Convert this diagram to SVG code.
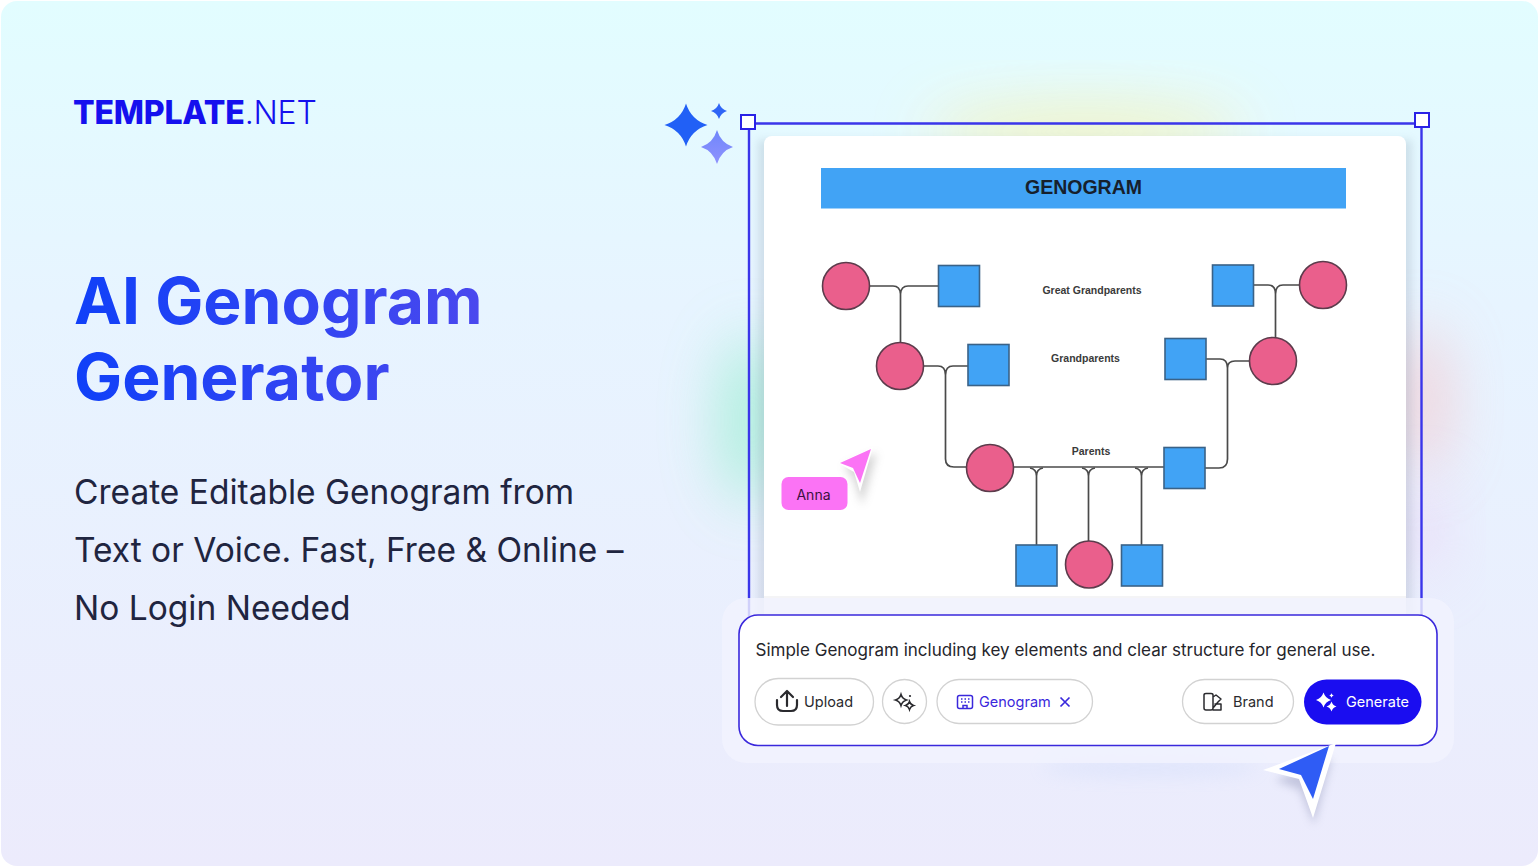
<svg xmlns="http://www.w3.org/2000/svg" width="1539" height="867" viewBox="0 0 1539 867">
<defs>
<linearGradient id="bg" x1="0" y1="0" x2="0" y2="1"><stop offset="0" stop-color="#e2fdff"/><stop offset="0.35" stop-color="#e7f4ff"/><stop offset="1" stop-color="#ecebfc"/></linearGradient>
<linearGradient id="title2" gradientUnits="userSpaceOnUse" x1="75" y1="0" x2="480" y2="0"><stop offset="0" stop-color="#1040f8"/><stop offset="1" stop-color="#4a48ee"/></linearGradient>
<linearGradient id="star" x1="0" y1="0" x2="0" y2="1"><stop offset="0" stop-color="#6f86fb"/><stop offset="1" stop-color="#8f92fd"/></linearGradient>
<filter id="b60" x="-100%" y="-100%" width="300%" height="300%"><feGaussianBlur stdDeviation="30"/></filter>
<filter id="b8" x="-50%" y="-200%" width="200%" height="500%"><feGaussianBlur stdDeviation="9"/></filter>
<filter id="b4" x="-50%" y="-50%" width="200%" height="200%"><feGaussianBlur stdDeviation="4"/></filter>
<path id="sp" d="M0-1Q.24-.24 1 0 .24.24 0 1-.24.24-1 0-.24-.24 0-1Z"/>
<style>
text{font-family:Inter,"Liberation Sans",sans-serif}
.c{fill:#ea5f8c;stroke:#5c3c4c;stroke-width:1.6}
.s{fill:#41a3f5;stroke:#3a6287;stroke-width:1.6}
.l{fill:none;stroke:#4a4a4a;stroke-width:1.7}
.lb{font-family:"Liberation Sans",Arial,sans-serif;font-size:10.500px;font-weight:700;fill:#3a3a3a;text-anchor:middle}
.pill{fill:#fff;stroke:#d2d2d2;stroke-width:1.3}
.bt{font-size:14.500px;fill:#2a2a2e}
.sel{fill:none;stroke:#3a35ea;stroke-width:2.400}
.ic{fill:none;stroke:#2a2a2e;stroke-width:1.6;stroke-linecap:round;stroke-linejoin:round}
.head{font-size:64.200px;font-weight:700;fill:url(#title2)}
.sub{font-size:33.500px;fill:#1f2540}
.gt{font-family:"Liberation Sans",Arial,sans-serif;font-size:19.500px;font-weight:700;fill:#16202c;text-anchor:middle}
</style>
</defs>
<rect width="1539" height="867" fill="#fff"/>
<rect x="1" y="1" width="1537" height="865" rx="16" fill="url(#bg)"/>
<g id="glow">
<ellipse cx="752" cy="420" rx="32" ry="85" fill="#90eecb" opacity=".7" filter="url(#b60)"/>
<ellipse cx="1085" cy="132" rx="160" ry="24" fill="#f5f2b5" opacity=".9" filter="url(#b60)"/>
<ellipse cx="1420" cy="400" rx="28" ry="75" fill="#f8bcc0" opacity=".6" filter="url(#b60)"/>
<ellipse cx="1420" cy="530" rx="22" ry="50" fill="#ecc4f0" opacity=".5" filter="url(#b60)"/>
<ellipse cx="1150" cy="768" rx="110" ry="8" fill="#c5d4fa" opacity=".35" filter="url(#b8)"/>
</g>
<g id="brand"><text x="73" y="123.500" font-size="32" font-weight="800" fill="#1510ee" style="letter-spacing:-.2px">TEMPLATE<tspan font-weight="300">.NET</tspan></text></g>
<g id="copy">
<text class="head" x="74" y="324">AI Genogram</text>
<text class="head" x="74" y="400">Generator</text>
<text class="sub" x="74" y="504">Create Editable Genogram from</text>
<text class="sub" x="74" y="562">Text or Voice. Fast, Free &amp; Online –</text>
<text class="sub" x="74" y="620">No Login Needed</text>
</g>
<g id="sparkles">
<use href="#sp" transform="translate(686 125) scale(21.500)" fill="#2160f6"/>
<use href="#sp" transform="translate(719 111) scale(8)" fill="#2f65f6"/>
<use href="#sp" transform="translate(717 147) scale(16 17)" fill="url(#star)"/>
</g>
<g id="canvas">
<rect x="758" y="140" width="654" height="476" fill="#7b8aa0" opacity=".22" filter="url(#b4)"/>
<rect x="764" y="136" width="642" height="480" rx="8" fill="#fff"/>
<rect x="764" y="596" width="642" height="20" fill="#f4f4f6"/>
</g>
<g id="selection-frame">
<path class="sel" d="M749 123.500H1421.500V620M749 123.500V620"/>
</g>
<g id="handles">
<rect x="741" y="115" width="14" height="14" fill="#fff" stroke="#2a22e6" stroke-width="2"/>
<rect x="1415" y="113" width="14" height="14" fill="#fff" stroke="#2a22e6" stroke-width="2"/>
</g>
<g id="banner"><rect x="821" y="168" width="525" height="40.500" fill="#41a3f5"/><text class="gt" x="1083.500" y="193.500">GENOGRAM</text></g>
<g id="connectors">
<path class="l" d="M870 286H893Q900 286 900.500 294V342M938 286H908Q901 286 900.500 294"/>
<path class="l" d="M924 366H938Q945.500 366 945.500 375V459Q945.500 467 954 467H967M968 366H953Q945.500 366 945.500 375"/>
<path class="l" d="M1014 467H1164"/>
<path class="l" d="M1030 468Q1036.500 469 1036.500 476V546M1043 468Q1036.500 469 1036.500 476"/>
<path class="l" d="M1082 468Q1088.500 469 1088.500 476V541M1095 468Q1088.500 469 1088.500 476"/>
<path class="l" d="M1135 468Q1141.500 469 1141.500 476V546M1148 468Q1141.500 469 1141.500 476"/>
<path class="l" d="M1254 285H1268Q1275.500 285 1275.500 294V338M1299 285H1283Q1275.500 285 1275.500 294"/>
<path class="l" d="M1206 359H1220Q1227.500 359 1227.500 368V459Q1227.500 468 1219 468H1205M1250 361H1235Q1227.500 361 1227.500 368"/>
</g>
<g id="n-c1"><circle class="c" cx="846" cy="286" r="23.500"/></g>
<g id="n-s1"><rect class="s" x="938.500" y="265.500" width="41" height="41"/></g>
<g id="n-c2"><circle class="c" cx="900" cy="366" r="23.500"/></g>
<g id="n-s2"><rect class="s" x="968" y="344.500" width="41" height="41"/></g>
<g id="n-s3"><rect class="s" x="1212.500" y="265" width="41" height="41"/></g>
<g id="n-c3"><circle class="c" cx="1323" cy="285" r="23.500"/></g>
<g id="n-s4"><rect class="s" x="1165" y="338.500" width="41" height="41"/></g>
<g id="n-c4"><circle class="c" cx="1273" cy="361" r="23.500"/></g>
<g id="n-c5"><circle class="c" cx="990" cy="468" r="23.500"/></g>
<g id="n-s5"><rect class="s" x="1164" y="447.500" width="41" height="41"/></g>
<g id="n-s6"><rect class="s" x="1016" y="545" width="41" height="41"/></g>
<g id="n-c6"><circle class="c" cx="1089" cy="564.500" r="23.500"/></g>
<g id="n-s7"><rect class="s" x="1121.500" y="545" width="41" height="41"/></g>
<g id="labels">
<text class="lb" x="1092" y="294">Great Grandparents</text>
<text class="lb" x="1085.500" y="362">Grandparents</text>
<text class="lb" x="1091" y="455">Parents</text>
</g>
<g id="anna">
<path d="M844 466 877 453 862 505 854 480Z" fill="#888" opacity=".35" filter="url(#b4)"/>
<path d="M838 463 873 447 860 492 854 472Z" fill="#fff"/>
<path d="M840 463 871 449 860 483 853 468Z" fill="#fb73f5"/>
<rect x="781.500" y="477" width="66" height="33" rx="7" fill="#fb73f5"/>
<text x="813.500" y="499.500" font-size="14" fill="#3c1140" text-anchor="middle">Anna</text>
</g>
<g id="prompt">
<rect x="722" y="598" width="732" height="165" rx="24" fill="#f1f3fe" opacity=".82"/>
<rect x="739" y="615" width="698" height="130.500" rx="19" fill="#fff" stroke="#3a28dc" stroke-width="1.600"/>
<text x="755.500" y="656" font-size="17.030" fill="#25252b">Simple Genogram including key elements and clear structure for general use.</text>
</g>
<g id="upload">
<rect class="pill" x="755" y="678.500" width="118.500" height="46.500" rx="23.200"/>
<path class="ic" style="stroke-width:2.200" d="M777 700v5q0 6 6 6h8q6 0 6-6v-5M787 706V692M781 697l6-6 6 6"/>
<text class="bt" x="804" y="707">Upload</text>
</g>
<g id="spark-btn">
<rect class="pill" x="882.500" y="679.500" width="44" height="44" rx="22"/>
<use href="#sp" transform="translate(901 700) scale(5.500)" fill="none" stroke="#2a2a2e" stroke-width=".3"/>
<use href="#sp" transform="translate(909.500 705.500) scale(4)" fill="none" stroke="#2a2a2e" stroke-width=".4"/>
<circle cx="910" cy="696" r="1.100" fill="#2a2a2e"/>
</g>
<g id="genogram-chip">
<rect class="pill" x="937" y="679.500" width="155.500" height="44" rx="22"/>
<g fill="none" stroke="#3a28dc" stroke-width="1.500"><rect x="957.500" y="695.500" width="15" height="13" rx="2"/><path d="M961 699h1.500M964.500 699h1.500M968 699h1.500M961 702h1.500M964.500 702h1.500M968 702h1.500M963 708.500v-3h4v3"/></g>
<text x="979" y="707" font-size="14.500" fill="#3a28dc">Genogram</text>
<path d="M1060.500 697.500l9 9M1069.500 697.500l-9 9" stroke="#3a28dc" stroke-width="1.700" fill="none"/>
</g>
<g id="brand-btn">
<rect class="pill" x="1182.500" y="679.500" width="111" height="44" rx="22"/>
<path class="ic" style="stroke-width:1.500" d="M1204 695q0-1.500 2-1.500h5q2 0 2 1.500v13q0 2-2 2h-5q-2 0-2-2ZM1213 697l3-2 5 4-3 3-5 6M1215 704h6v6h-8"/>
<text class="bt" x="1233" y="707">Brand</text>
</g>
<g id="generate">
<rect x="1304" y="679.500" width="117.500" height="45" rx="22.500" fill="#1a0df0"/>
<use href="#sp" transform="translate(1323.500 700) scale(7.500)" fill="#fff"/>
<use href="#sp" transform="translate(1331.500 706.500) scale(5)" fill="#fff"/>
<use href="#sp" transform="translate(1331.500 695.500) scale(2.200)" fill="#fff"/>
<text x="1346" y="707" font-size="14.500" fill="#fff">Generate</text>
</g>
<g id="cursor">
<path d="M1275 780 1332 758 1314 825 1300 790Z" fill="#7b80a8" opacity=".35" filter="url(#b4)"/>
<path d="M1263 770 1336 743 1313 818 1299 779Z" fill="#fff"/>
<path d="M1279 769 1329 746 1313 799 1301 775Z" fill="#2f5cf5"/>
</g>
</svg>
